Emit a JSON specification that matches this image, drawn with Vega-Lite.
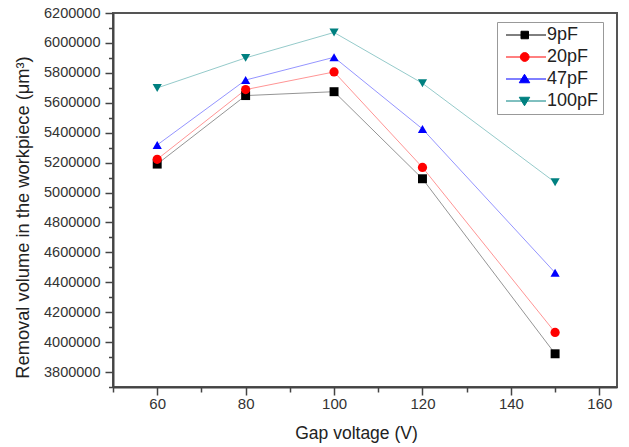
{
  "$schema": "https://vega.github.io/schema/vega-lite/v6.json",
  "width": 504,
  "height": 374,
  "autosize": {"type": "none"},
  "padding": {"left": 113, "top": 13, "right": 12, "bottom": 60},
  "background": "white",
  "config": {
    "view": {"stroke": "#555555", "strokeWidth": 2},
    "font": "Liberation Sans",
    "axis": {
      "grid": false,
      "domainColor": "#444444",
      "domainWidth": 2,
      "tickColor": "#444444",
      "tickWidth": 1.5,
      "labelColor": "#333333",
      "titleColor": "#222222",
      "labelFont": "Liberation Sans",
      "titleFont": "Liberation Sans",
      "titleFontWeight": "normal"
    },
    "legend": {
      "orient": "none",
      "legendX": 384,
      "legendY": 9,
      "padding": 4,
      "rowPadding": 4,
      "labelFont": "Liberation Sans",
      "labelFontSize": 18,
      "labelColor": "#222222",
      "labelOffset": 28,
      "symbolSize": 100,
      "symbolStrokeWidth": 1,
      "symbolOpacity": 1,
      "strokeColor": "#999999",
      "fillColor": "white"
    }
  },
  "data": {
    "values": [
      {"series": "9pF", "voltage": 60, "volume": 5190000},
      {"series": "9pF", "voltage": 80, "volume": 5648000},
      {"series": "9pF", "voltage": 100, "volume": 5674000},
      {"series": "9pF", "voltage": 120, "volume": 5092000},
      {"series": "9pF", "voltage": 150, "volume": 3922000},
      {"series": "20pF", "voltage": 60, "volume": 5222000},
      {"series": "20pF", "voltage": 80, "volume": 5688000},
      {"series": "20pF", "voltage": 100, "volume": 5806000},
      {"series": "20pF", "voltage": 120, "volume": 5168000},
      {"series": "20pF", "voltage": 150, "volume": 4065000},
      {"series": "47pF", "voltage": 60, "volume": 5318000},
      {"series": "47pF", "voltage": 80, "volume": 5752000},
      {"series": "47pF", "voltage": 100, "volume": 5904000},
      {"series": "47pF", "voltage": 120, "volume": 5425000},
      {"series": "47pF", "voltage": 150, "volume": 4464000},
      {"series": "100pF", "voltage": 60, "volume": 5699000},
      {"series": "100pF", "voltage": 80, "volume": 5900000},
      {"series": "100pF", "voltage": 100, "volume": 6070000},
      {"series": "100pF", "voltage": 120, "volume": 5730000},
      {"series": "100pF", "voltage": 150, "volume": 5068000}
    ]
  },
  "encoding": {
    "x": {
      "field": "voltage",
      "type": "quantitative",
      "scale": {"domain": [50, 164], "nice": false, "zero": false},
      "axis": {
        "title": "Gap voltage (V)",
        "values": [50, 60, 70, 80, 90, 100, 110, 120, 130, 140, 150, 160],
        "labelExpr": "datum.value % 20 == 0 ? datum.label : ''",
        "tickSize": {"condition": {"test": "datum.value % 20 == 0", "value": 8}, "value": 5},
        "labelFontSize": 15,
        "labelPadding": 1,
        "titleFontSize": 17.5,
        "titlePadding": 13,
        "titleX": 243
      }
    },
    "y": {
      "field": "volume",
      "type": "quantitative",
      "scale": {"domain": [3700000, 6200000], "nice": false, "zero": false},
      "axis": {
        "title": "Removal volume in the workpiece (μm³)",
        "values": [3700000, 3800000, 3900000, 4000000, 4100000, 4200000, 4300000, 4400000, 4500000, 4600000, 4700000, 4800000, 4900000, 5000000, 5100000, 5200000, 5300000, 5400000, 5500000, 5600000, 5700000, 5800000, 5900000, 6000000, 6100000, 6200000],
        "labelExpr": "datum.value % 200000 == 0 ? format(datum.value, 'd') : ''",
        "tickSize": {"condition": {"test": "datum.value % 200000 == 0", "value": 8}, "value": 4.5},
        "labelFontSize": 14.5,
        "labelPadding": 5,
        "titleFontSize": 18.3,
        "titlePadding": 11,
        "titleY": 204
      }
    },
    "color": {
      "field": "series",
      "type": "nominal",
      "scale": {"domain": ["9pF", "20pF", "47pF", "100pF"], "range": ["#000000", "#ff0000", "#0000ff", "#008080"]},
      "legend": {"title": null}
    }
  },
  "layer": [
    {
      "mark": {"type": "line", "strokeWidth": 1, "strokeOpacity": 0.42}
    },
    {
      "transform": [{"filter": "datum.series == '9pF'"}],
      "mark": {"type": "point", "filled": true, "shape": "square", "size": 80, "opacity": 1}
    },
    {
      "transform": [{"filter": "datum.series == '20pF'"}],
      "mark": {"type": "point", "filled": true, "shape": "circle", "size": 85, "opacity": 1}
    },
    {
      "transform": [{"filter": "datum.series == '47pF'"}],
      "mark": {"type": "point", "filled": true, "shape": "triangle-up", "size": 85, "opacity": 1}
    },
    {
      "transform": [{"filter": "datum.series == '100pF'"}],
      "mark": {"type": "point", "filled": true, "shape": "triangle-down", "size": 85, "opacity": 1}
    },
    {
      "mark": {"type": "point", "filled": true, "size": 0, "opacity": 0},
      "encoding": {
        "shape": {
          "field": "series",
          "type": "nominal",
          "scale": {"domain": ["9pF", "20pF", "47pF", "100pF"], "range": ["M-0.8,0H7.2M2.2,-0.75H3.7V0.75H2.2Z", "M-0.8,0H7.2M3.82,0A0.88,0.88 0 1,1 2.06,0A0.88,0.88 0 1,1 3.82,0Z", "M-0.8,0H7.2M2.9,-0.95L3.95,0.75L1.85,0.75Z", "M-0.8,0H7.2M2.9,0.95L3.95,-0.75L1.85,-0.75Z"]},
          "legend": {"title": null}
        },
        "stroke": {
          "field": "series",
          "type": "nominal",
          "scale": {"domain": ["9pF", "20pF", "47pF", "100pF"], "range": ["#8c8c8c", "#eea4a4", "#9ca0e6", "#9ccaca"]},
          "legend": {"title": null}
        }
      }
    }
  ]
}
